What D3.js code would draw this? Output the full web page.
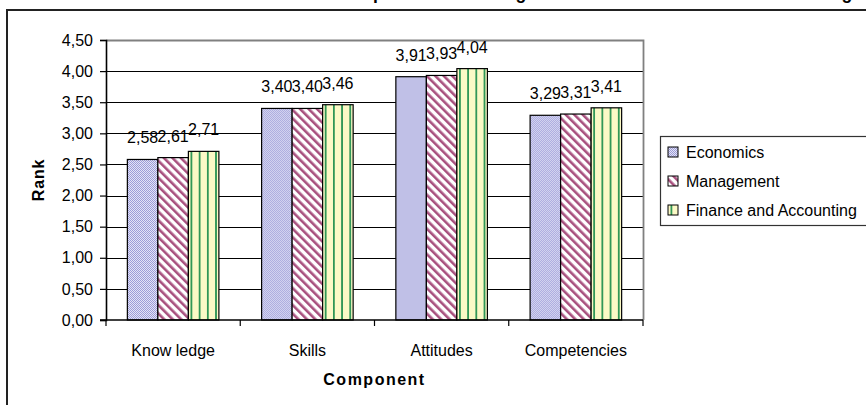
<!DOCTYPE html>
<html>
<head>
<meta charset="utf-8">
<script src="https://cdn.jsdelivr.net/npm/d3@7/dist/d3.min.js"></script>
<style>
  html, body { margin: 0; padding: 0; background: #fff; }
  svg { display: block; font-family: Arial, "Liberation Sans", sans-serif; }
</style>
</head>
<body>
<svg id="chart" width="866" height="405"></svg>
<script>
// Mean rank per component and study field
const categories = ["Know ledge", "Skills", "Attitudes", "Competencies"];
const seriesNames = ["Economics", "Management", "Finance and Accounting"];
const economics = [2.58, 3.40, 3.91, 3.29];
const management = [2.61, 3.40, 3.93, 3.31];
const financeAccounting = [2.71, 3.46, 4.04, 3.41];
const yTicks = [0, 0.5, 1, 1.5, 2, 2.5, 3, 3.5, 4, 4.5];
const titleText = "Perception of Knowledge and Skills in Finance and Accounting";
const yTitle = "Rank";
const xTitle = "Component";

const seriesValues = [economics, management, financeAccounting];

const svg = d3.select("#chart");
svg.append("rect").attr("width", 866).attr("height", 405).attr("fill", "#fff");

// Decimal comma formatting
const locale = d3.formatLocale({ decimal: ",", thousands: ".", grouping: [3], currency: ["", ""] });
const fmt = locale.format(".2f");

// Fill patterns for the three series
const defs = svg.append("defs");
const pDots = defs.append("pattern").attr("id", "pat-econ")
  .attr("patternUnits", "userSpaceOnUse").attr("width", 2).attr("height", 2);
pDots.append("rect").attr("width", 2).attr("height", 2).attr("fill", "#e4e4f6");
pDots.append("rect").attr("width", 1).attr("height", 1).attr("fill", "#9c9cd8");
pDots.append("rect").attr("x", 1).attr("y", 1).attr("width", 1).attr("height", 1).attr("fill", "#9c9cd8");

const pDiag = defs.append("pattern").attr("id", "pat-mgmt")
  .attr("patternUnits", "userSpaceOnUse").attr("width", 6).attr("height", 6)
  .attr("patternTransform", "rotate(-45)");
pDiag.append("rect").attr("width", 6).attr("height", 6).attr("fill", "#fff");
pDiag.append("rect").attr("width", 2.6).attr("height", 6).attr("fill", "#a8507e");

const pVert = defs.append("pattern").attr("id", "pat-fin")
  .attr("patternUnits", "userSpaceOnUse").attr("width", 8.2).attr("height", 8)
  .attr("x", 2.5);
pVert.append("rect").attr("width", 8.2).attr("height", 8).attr("fill", "#fbf9c6");
pVert.append("rect").attr("width", 1.8).attr("height", 8).attr("fill", "#2f9656");

const fills = ["url(#pat-econ)", "url(#pat-mgmt)", "url(#pat-fin)"];

// Chart title (sits above the visible frame)
svg.append("text").attr("x", 325).attr("y", -1.2)
  .attr("font-size", 17.6).attr("font-weight", "bold").attr("fill", "#000")
  .text(titleText);

// Outer chart frame
svg.append("path").attr("d", "M7,405 V10 H866")
  .attr("fill", "none").attr("stroke", "#222").attr("stroke-width", 2);

// Plot area
const plot = { left: 106, right: 643, top: 40, bottom: 320 };

const x0 = d3.scaleBand().domain(categories).range([plot.left, plot.right]).paddingInner(0).paddingOuter(0);
const x1 = d3.scaleBand().domain(seriesNames).range([0, x0.bandwidth()]).paddingInner(0).paddingOuter(0.7);
const y = d3.scaleLinear().domain([0, 4.5]).range([plot.bottom, plot.top]);

// Gridlines
svg.append("g").selectAll("line").data(yTicks.filter(d => d > 0 && d < 4.5)).join("line")
  .attr("x1", plot.left).attr("x2", plot.right)
  .attr("y1", d => Math.round(y(d)) + 0.5).attr("y2", d => Math.round(y(d)) + 0.5)
  .attr("stroke", "#000").attr("stroke-width", 1);

// Plot border (top and right)
svg.append("path")
  .attr("d", `M${plot.left},${plot.top + 0.5} H${plot.right + 0.5} V${plot.bottom}`)
  .attr("fill", "none").attr("stroke", "#808080").attr("stroke-width", 1.8);

// Bars
const groups = svg.append("g").selectAll("g").data(categories).join("g")
  .attr("transform", d => `translate(${x0(d)},0)`);

groups.selectAll("rect").data((c, i) => seriesNames.map((s, j) => ({ s, j, v: seriesValues[j][i] })))
  .join("rect")
  .attr("x", d => x1(d.s))
  .attr("y", d => y(d.v))
  .attr("width", x1.bandwidth())
  .attr("height", d => y(0) - y(d.v))
  .attr("fill", d => fills[d.j])
  .attr("stroke", "#000").attr("stroke-width", 1.2);

// Value labels
groups.selectAll("text.val").data((c, i) => seriesNames.map((s, j) => ({ s, j, v: seriesValues[j][i] })))
  .join("text").attr("class", "val")
  .attr("x", d => x1(d.s) + x1.bandwidth() / 2)
  .attr("y", d => y(d.v) - 16)
  .attr("text-anchor", "middle").attr("font-size", 16).attr("fill", "#000")
  .text(d => fmt(d.v));

// Y axis
const yAxis = svg.append("g").attr("transform", `translate(${plot.left},0)`)
  .call(d3.axisLeft(y).tickValues(yTicks).tickSize(6).tickPadding(7).tickFormat(fmt));
yAxis.select(".domain").attr("stroke", "#000").attr("stroke-width", 1.6);
yAxis.selectAll(".tick line").attr("stroke", "#000").attr("stroke-width", 1.2);
yAxis.selectAll(".tick text").attr("font-size", 16).attr("fill", "#000")
  .attr("font-family", "Arial, 'Liberation Sans', sans-serif");

// X axis: ticks at category boundaries
const xAxisG = svg.append("g");
xAxisG.append("line").attr("x1", plot.left - 6).attr("x2", plot.right)
  .attr("y1", plot.bottom).attr("y2", plot.bottom)
  .attr("stroke", "#000").attr("stroke-width", 1.6);
const boundaries = categories.map(c => x0(c)).concat([x0(categories[categories.length - 1]) + x0.bandwidth()]);
xAxisG.selectAll("line.tk").data(boundaries).join("line").attr("class", "tk")
  .attr("x1", d => d).attr("x2", d => d)
  .attr("y1", plot.bottom).attr("y2", plot.bottom + 6)
  .attr("stroke", "#000").attr("stroke-width", 1.2);
xAxisG.selectAll("text").data(categories).join("text")
  .attr("x", d => x0(d) + x0.bandwidth() / 2)
  .attr("y", 356)
  .attr("text-anchor", "middle").attr("font-size", 16).attr("fill", "#000")
  .text(d => d);

// Axis titles
svg.append("text")
  .attr("transform", `translate(44,${(plot.top + plot.bottom) / 2}) rotate(-90)`)
  .attr("text-anchor", "middle").attr("font-size", 16).attr("font-weight", "bold")
  .attr("letter-spacing", 0.8).text(yTitle);
svg.append("text")
  .attr("x", (plot.left + plot.right) / 2).attr("y", 385)
  .attr("text-anchor", "middle").attr("font-size", 16).attr("font-weight", "bold")
  .attr("letter-spacing", 1.5).text(xTitle);

// Legend
const legend = svg.append("g");
legend.append("rect").attr("x", 660.5).attr("y", 136.5).attr("width", 230).attr("height", 89)
  .attr("fill", "#fff").attr("stroke", "#333").attr("stroke-width", 1.2);
const items = legend.selectAll("g").data(seriesNames).join("g")
  .attr("transform", (d, i) => `translate(668,${152 + i * 29})`);
items.append("rect").attr("x", 0).attr("y", -5).attr("width", 10).attr("height", 10)
  .attr("fill", (d, i) => fills[i]).attr("stroke", "#000").attr("stroke-width", 1);
items.append("text").attr("x", 18).attr("y", 5.8).attr("font-size", 16).attr("fill", "#000")
  .text(d => d);
</script>
</body>
</html>
